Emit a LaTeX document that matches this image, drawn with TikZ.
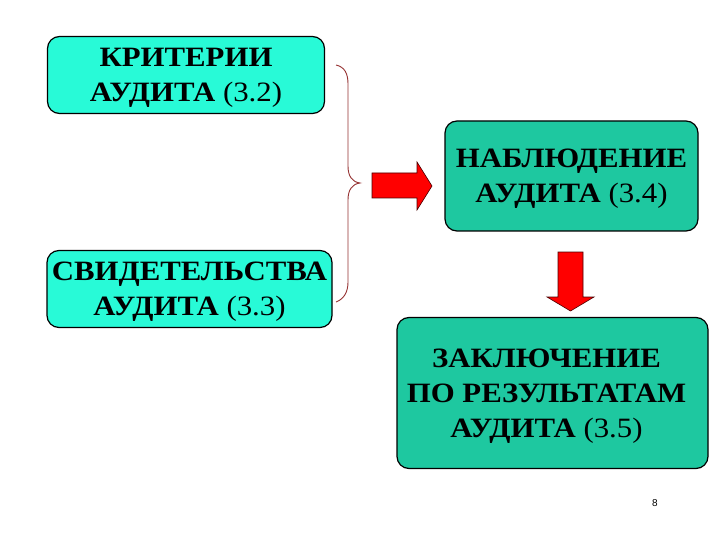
\documentclass[tikz,border=0pt]{standalone}
\usepackage{fontspec}
\setmainfont{Liberation Serif}[FakeStretch=1.1]
\newfontfamily\pagefont{Liberation Sans}
\definecolor{boxlight}{RGB}{40,250,215}
\definecolor{boxdark}{RGB}{30,200,160}
\definecolor{bracecol}{RGB}{150,50,50}
\definecolor{arrowred}{RGB}{255,0,0}
\tikzset{
  card/.style={draw=black, line width=1.2pt, rounded corners=12pt, inner sep=0pt},
  cardtext/.style={inner sep=0pt, align=center, font=\fontsize{28}{35}\selectfont},
  blockarrow/.style={fill=arrowred, draw=black!70!red, line width=0.6pt},
  bracepath/.style={draw=bracecol, line width=0.9pt}
}
\begin{document}
\begin{tikzpicture}[x=1pt,y=-1pt]
\useasboundingbox (0,0) rectangle (720,540);
\fill[white] (0,0) rectangle (720,540);
% boxes
\node[card, fill=boxlight, minimum width=277pt, minimum height=77pt] (crit) at (186,75) {};
\node[cardtext] (critT) at ([yshift=-3pt]crit.center)
  {\textbf{КРИТЕРИИ}\\\textbf{АУДИТА} (3.2)};
\node[card, fill=boxlight, minimum width=285pt, minimum height=77pt] (evid) at (189.5,289) {};
\node[cardtext] (evidT) at ([yshift=-3pt]evid.center)
  {\textbf{СВИДЕТЕЛЬСТВА}\\\textbf{АУДИТА} (3.3)};
\node[card, fill=boxdark, minimum width=253pt, minimum height=110pt] (obs) at (571.5,176) {};
\node[cardtext] (obsT) at ([yshift=-3pt]obs.center)
  {\textbf{НАБЛЮДЕНИЕ}\\\textbf{АУДИТА} (3.4)};
\node[card, fill=boxdark, minimum width=311pt, minimum height=151pt] (concl) at (552.5,393) {};
\node[cardtext] (conclT) at ([xshift=-6pt,yshift=-3pt]concl.center)
  {\textbf{ЗАКЛЮЧЕНИЕ}\\\textbf{ПО РЕЗУЛЬТАТАМ}\\\textbf{АУДИТА} (3.5)};
% brace
\draw[bracepath] (336,65) .. controls (345,67) and (348,74) .. (348,84)
  -- (348,166) .. controls (348,176) and (352,182) .. (360,183)
  .. controls (352,184) and (348,190) .. (348,200)
  -- (348,282) .. controls (348,292) and (344,299) .. (336,302);
% right block arrow
\draw[blockarrow] (372,173) -- (417,173) -- (417,162) -- (432,186) -- (417,210)
  -- (417,198) -- (372,198) -- cycle;
% down block arrow
\draw[blockarrow] (558,252) -- (583,252) -- (583,297) -- (594,297) -- (570.5,311)
  -- (547,297) -- (558,297) -- cycle;
% page number
\node[font=\pagefont\fontsize{10}{12}\selectfont] (pg) at (655,503) {8};
\end{tikzpicture}
\end{document}
